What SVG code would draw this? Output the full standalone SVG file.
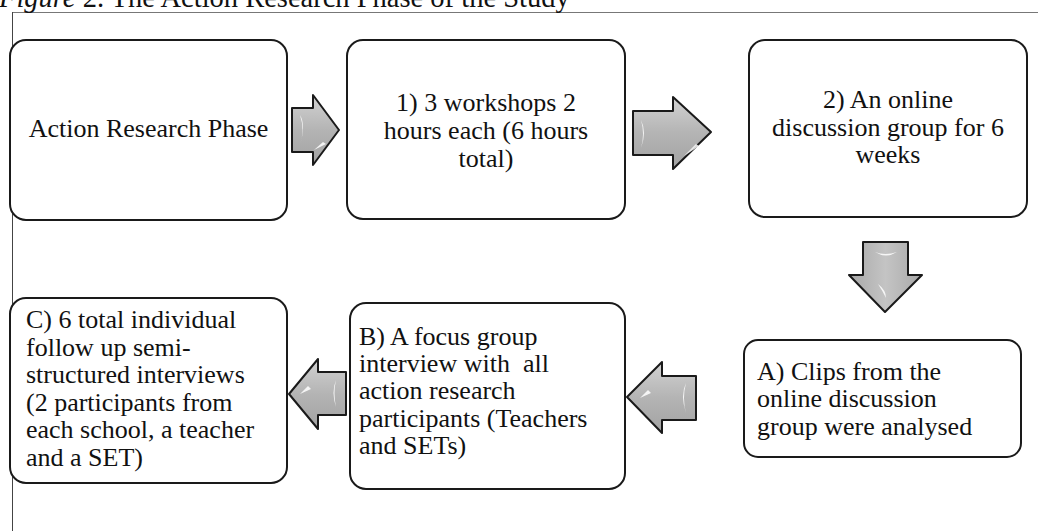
<svg xmlns="http://www.w3.org/2000/svg" width="1038" height="531" viewBox="0 0 1038 531">
<defs>
<style>
.box{fill:#fff;stroke:#1a1a1a;stroke-width:2}
.arr{stroke:#1a1a1a;stroke-width:2;stroke-linejoin:round}
.hl{fill:#fff;opacity:0.85}
</style>
<linearGradient id="gh" x1="0" y1="0" x2="0" y2="1">
<stop offset="0" stop-color="#d2d2d2"/>
<stop offset="0.5" stop-color="#b4b4b4"/>
<stop offset="1" stop-color="#a2a2a2"/>
</linearGradient>
<linearGradient id="gv" x1="0" y1="0" x2="1" y2="0">
<stop offset="0" stop-color="#a8a8a8"/>
<stop offset="0.5" stop-color="#c4c4c4"/>
<stop offset="1" stop-color="#a8a8a8"/>
</linearGradient>
</defs>
<rect width="1038" height="531" fill="#fff"/>
<g id="frame">
<line x1="12" y1="12.5" x2="1038" y2="12.5" stroke="#777" stroke-width="1"/>
<line x1="12.5" y1="12" x2="12.5" y2="531" stroke="#444" stroke-width="1"/>
</g>
<text id="title" x="-1" y="7" font-family="Liberation Serif, Times New Roman, serif" font-size="28.5" fill="#111"><tspan font-style="italic">Figure</tspan> 2. The Action Research Phase of the Study</text>
<g id="connectors">
<g id="a1">
<polygon class="arr" fill="url(#gh)" points="292,108 313,108 313,95 339,130 313,165 313,152 292,152"/>
<path class="hl" d="M300,115 q6,10 0,30 q5,-15 0,-30z"/>
<path class="hl" d="M314,150 l9,-8 l3,2 z"/>
</g>
<g id="a2">
<polygon class="arr" fill="url(#gh)" points="633,111 673,111 673,97 711,132 673,169 673,155 633,155"/>
<path class="hl" d="M641,120 q6,12 0,28 q4,-14 0,-28z"/>
<path class="hl" d="M684,156 l12,-12 l3,2 z"/>
</g>
<g id="a3">
<polygon class="arr" fill="url(#gv)" points="863,242 908,242 908,275 922,275 885,312 849,275 863,275"/>
<path class="hl" d="M875,252 q10,4 22,0 q-11,7 -22,0z"/>
<path class="hl" d="M878,284 q8,6 8,14 q-4,-8 -8,-14z"/>
</g>
<g id="a4">
<polygon class="arr" fill="url(#gh)" points="696,376 662,376 662,362 627,397 662,433 662,420 696,420"/>
<path class="hl" d="M686,383 q-6,12 0,30 q-4,-15 0,-30z"/>
<path class="hl" d="M640,398 l8,-8 l3,3 z"/>
</g>
<g id="a5">
<polygon class="arr" fill="url(#gh)" points="346,372 318,372 318,359 289,394 318,429 318,415 346,415"/>
<path class="hl" d="M336,380 q-5,12 0,27 q-3,-14 0,-27z"/>
<path class="hl" d="M300,394 l8,-8 l3,3 z"/>
</g>
</g>
<g id="n0" font-family="Liberation Serif, Times New Roman, serif" font-size="26" fill="#111" text-anchor="middle">
<rect class="box" x="10" y="40" width="277" height="180" rx="16"/>
<text x="148.5" y="137">Action Research Phase</text>
</g>
<g id="n1" font-family="Liberation Serif, Times New Roman, serif" font-size="26" fill="#111" text-anchor="middle">
<rect class="box" x="347" y="40" width="278" height="179" rx="16"/>
<text x="486" y="111">1) 3 workshops 2</text>
<text x="486" y="139">hours each (6 hours</text>
<text x="486" y="167">total)</text>
</g>
<g id="n2" font-family="Liberation Serif, Times New Roman, serif" font-size="26" fill="#111" text-anchor="middle">
<rect class="box" x="749" y="40" width="278" height="177" rx="16"/>
<text x="888" y="108">2) An online</text>
<text x="888" y="136">discussion group for 6</text>
<text x="888" y="163">weeks</text>
</g>
<g id="n3" font-family="Liberation Serif, Times New Roman, serif" font-size="26" fill="#111">
<rect class="box" x="744" y="340" width="277" height="117" rx="14"/>
<text x="757" y="380">A) Clips from the</text>
<text x="757" y="407">online discussion</text>
<text x="757" y="435">group were analysed</text>
</g>
<g id="n4" font-family="Liberation Serif, Times New Roman, serif" font-size="26" fill="#111">
<rect class="box" x="350" y="303" width="275" height="186" rx="16"/>
<text x="359" y="345">B) A focus group</text>
<text x="359" y="372" xml:space="preserve">interview with  all</text>
<text x="359" y="399">action research</text>
<text x="359" y="427">participants (Teachers</text>
<text x="359" y="454">and SETs)</text>
</g>
<g id="n5" font-family="Liberation Serif, Times New Roman, serif" font-size="26" fill="#111">
<rect class="box" x="10" y="298" width="277" height="185" rx="16"/>
<text x="26" y="328">C) 6 total individual</text>
<text x="26" y="356">follow up semi-</text>
<text x="26" y="383">structured interviews</text>
<text x="26" y="411">(2 participants from</text>
<text x="26" y="438">each school, a teacher</text>
<text x="26" y="466">and a SET)</text>
</g>
</svg>
